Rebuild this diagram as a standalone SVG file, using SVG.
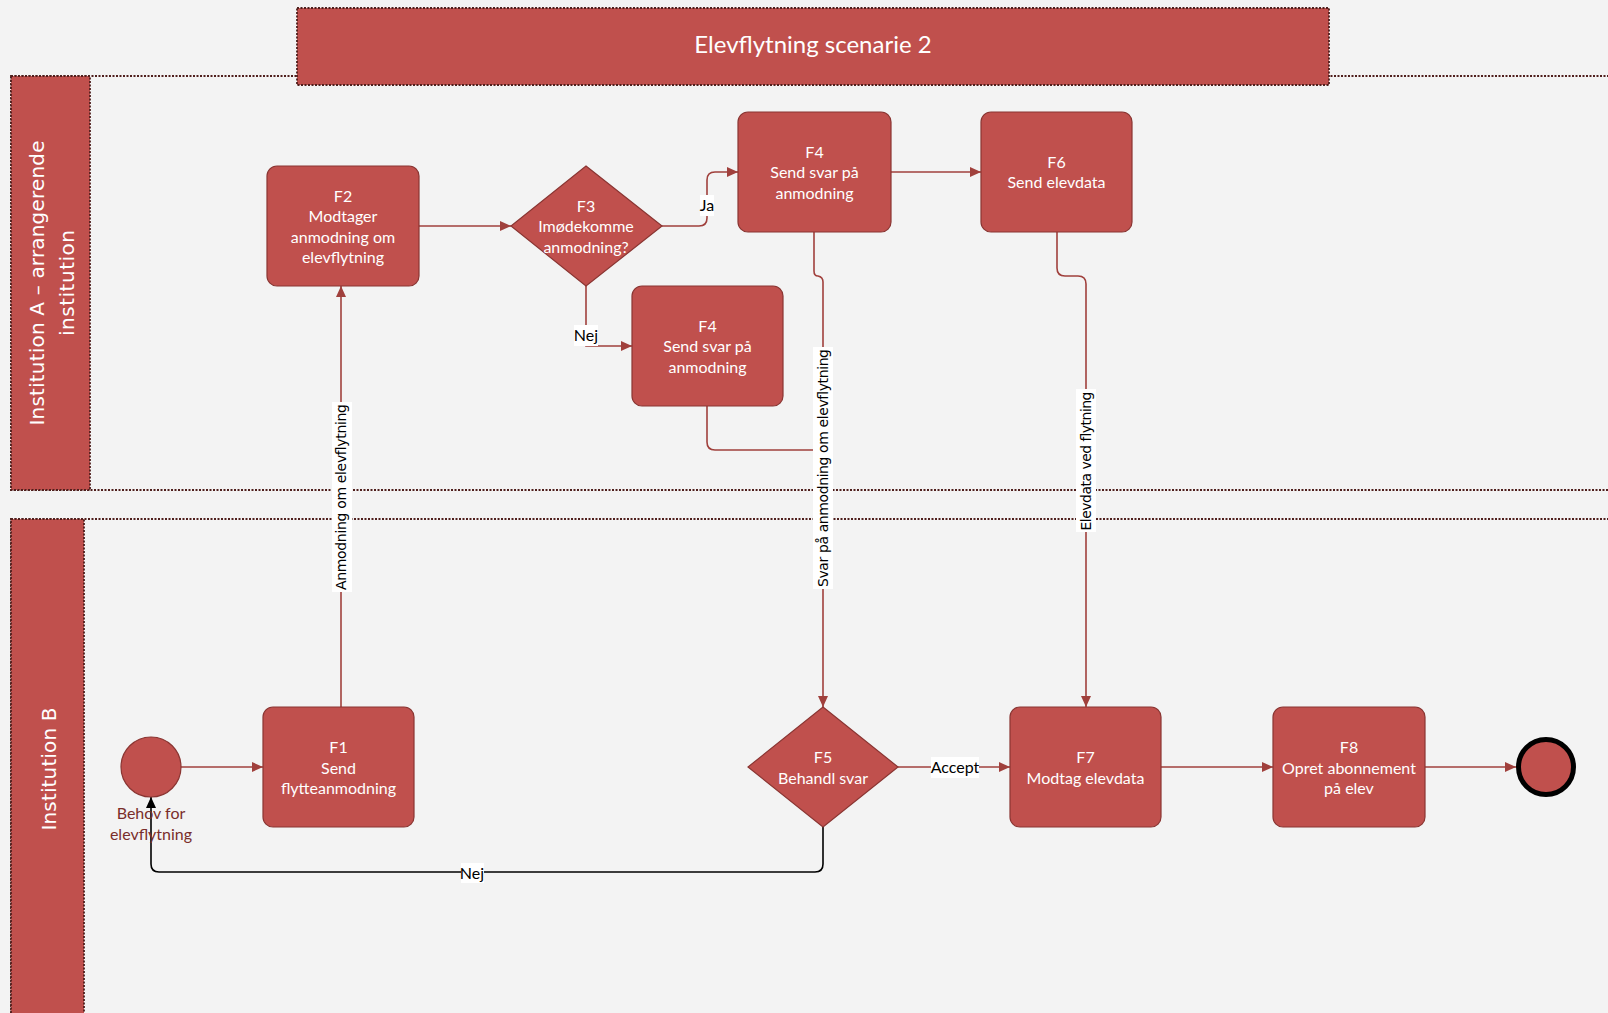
<svg xmlns="http://www.w3.org/2000/svg" width="1608" height="1013" viewBox="0 0 1608 1013">
<style>
.lane{fill:none;stroke:#4f1f1d;stroke-width:1.8;stroke-dasharray:2,1.5}
.hdr{fill:#C0504D;stroke:#4f1f1d;stroke-width:1.8;stroke-dasharray:2,1.5}
.node{fill:#C0504D;stroke:#8A3532;stroke-width:1.2}
.ntxt{font-family:Lato,"Liberation Sans",sans-serif;font-size:16px;fill:#ffffff;text-anchor:middle}
.lanetxt{font-family:"DejaVu Sans",Verdana,sans-serif;font-size:20px;fill:#ffffff;text-anchor:middle}
.con{fill:none;stroke:#A0403C;stroke-width:1.6}
.conb{fill:none;stroke:#000000;stroke-width:1.6}
.lbg{fill:#ffffff}
.ltxt{font-family:Lato,"Liberation Sans",sans-serif;font-size:16px;fill:#000000;text-anchor:middle}
.rtxt{font-family:"DejaVu Sans",Verdana,sans-serif;font-size:14px;fill:#000000;text-anchor:middle}
</style>
<defs>
<marker id="ar" markerUnits="userSpaceOnUse" markerWidth="12" markerHeight="10" refX="11" refY="5" orient="auto">
<path d="M0,0 L11,5 L0,10 z" fill="#A0403C"/>
</marker>
<marker id="ab" markerUnits="userSpaceOnUse" markerWidth="12" markerHeight="10" refX="11" refY="5" orient="auto">
<path d="M0,0 L11,5 L0,10 z" fill="#000000"/>
</marker>
</defs>
<rect x="0" y="0" width="1608" height="1013" fill="#F3F3F3"/>

<g id="lane-a">
<rect class="lane" x="11" y="76" width="1610" height="414"/>
<rect class="hdr" x="11" y="76" width="79" height="414"/>
<text class="lanetxt" transform="translate(44,283) rotate(-90)" x="0" y="0" textLength="285">Institution A – arrangerende</text>
<text class="lanetxt" transform="translate(74,283) rotate(-90)" x="0" y="0" textLength="106">institution</text>
</g>
<g id="lane-b">
<rect class="lane" x="11" y="519" width="1610" height="510"/>
<rect class="hdr" x="11" y="519" width="73" height="510"/>
<text class="lanetxt" transform="translate(56,769) rotate(-90)" x="0" y="0" textLength="123">Institution B</text>
</g>
<g id="title">
<rect class="hdr" x="297" y="8" width="1032" height="77"/>
<text x="813" y="53" font-family="Lato,'Liberation Sans',sans-serif" font-size="24" fill="#ffffff" text-anchor="middle">Elevflytning scenarie 2</text>
</g>

<g id="connectors">
<path class="con" d="M181,767 H263" marker-end="url(#ar)"/>
<path class="con" d="M341,707 V286" marker-end="url(#ar)"/>
<path class="con" d="M419,226 H511" marker-end="url(#ar)"/>
<path class="con" d="M662,226 H699 Q707,226 707,218 V180 Q707,172 715,172 H738" marker-end="url(#ar)"/>
<path class="con" d="M586,286 V346 H632" marker-end="url(#ar)"/>
<path class="con" d="M891,172 H981" marker-end="url(#ar)"/>
<path class="con" d="M707,406 V442 Q707,450 715,450 H823"/>
<path class="con" d="M814,232 V271 Q814,276 818,276 Q823,277 823,282 V707" marker-end="url(#ar)"/>
<path class="con" d="M1057,232 V268 Q1057,276 1065,276 H1078 Q1086,276 1086,284 V707" marker-end="url(#ar)"/>
<path class="con" d="M898,767 H1010" marker-end="url(#ar)"/>
<path class="con" d="M1161,767 H1273" marker-end="url(#ar)"/>
<path class="con" d="M1425,767 H1516" marker-end="url(#ar)"/>
<path class="conb" d="M823,827 V864 Q823,872 815,872 H159 Q151,872 151,864 V797" marker-end="url(#ab)"/>

<rect class="lbg" x="700" y="195" width="14" height="21"/>
<text class="ltxt" x="707" y="211">Ja</text>
<rect class="lbg" x="574" y="325" width="24" height="21"/>
<text class="ltxt" x="586" y="341">Nej</text>
<rect class="lbg" x="931" y="757" width="48" height="21"/>
<text class="ltxt" x="955" y="773">Accept</text>
<rect class="lbg" x="461" y="863" width="23" height="20"/>
<text class="ltxt" x="472" y="879">Nej</text>

<rect class="lbg" x="332" y="402" width="20" height="190"/>
<text class="rtxt" transform="translate(341,497) rotate(-90)" x="0" y="5" textLength="186">Anmodning om elevflytning</text>
<rect class="lbg" x="813" y="347" width="20" height="242"/>
<text class="rtxt" transform="translate(823,468) rotate(-90)" x="0" y="5" textLength="238">Svar på anmodning om elevflytning</text>
<rect class="lbg" x="1076" y="389" width="20" height="143"/>
<text class="rtxt" transform="translate(1086,461) rotate(-90)" x="0" y="5" textLength="139">Elevdata ved flytning</text>
</g>

<g id="start">
<circle class="node" cx="151" cy="767" r="30"/>
<text x="151" y="819" font-family="Lato,'Liberation Sans',sans-serif" font-size="16" fill="#7A2E2B" text-anchor="middle"><tspan x="151" y="819">Behov for</tspan><tspan x="151" y="840">elevflytning</tspan></text>
</g>
<g id="F1">
<rect class="node" x="263" y="707" width="151" height="120" rx="10"/>
<text class="ntxt"><tspan x="338.5" y="753">F1</tspan><tspan x="338.5" y="773.5">Send</tspan><tspan x="338.5" y="794">flytteanmodning</tspan></text>
</g>
<g id="F2">
<rect class="node" x="267" y="166" width="152" height="120" rx="10"/>
<text class="ntxt"><tspan x="343" y="201.5">F2</tspan><tspan x="343" y="222">Modtager</tspan><tspan x="343" y="242.5">anmodning om</tspan><tspan x="343" y="263">elevflytning</tspan></text>
</g>
<g id="F3">
<polygon class="node" points="586,166 662,226 586,286 511,226"/>
<text class="ntxt"><tspan x="586" y="211.5">F3</tspan><tspan x="586" y="232">Imødekomme</tspan><tspan x="586" y="252.5">anmodning?</tspan></text>
</g>
<g id="F4a">
<rect class="node" x="738" y="112" width="153" height="120" rx="10"/>
<text class="ntxt"><tspan x="814.5" y="157.5">F4</tspan><tspan x="814.5" y="178">Send svar på</tspan><tspan x="814.5" y="198.5">anmodning</tspan></text>
</g>
<g id="F4b">
<rect class="node" x="632" y="286" width="151" height="120" rx="10"/>
<text class="ntxt"><tspan x="707.5" y="331.5">F4</tspan><tspan x="707.5" y="352">Send svar på</tspan><tspan x="707.5" y="372.5">anmodning</tspan></text>
</g>
<g id="F6">
<rect class="node" x="981" y="112" width="151" height="120" rx="10"/>
<text class="ntxt"><tspan x="1056.5" y="167.5">F6</tspan><tspan x="1056.5" y="188">Send elevdata</tspan></text>
</g>
<g id="F5">
<polygon class="node" points="823,707 898,767 823,827 748,767"/>
<text class="ntxt"><tspan x="823" y="763">F5</tspan><tspan x="823" y="783.5">Behandl svar</tspan></text>
</g>
<g id="F7">
<rect class="node" x="1010" y="707" width="151" height="120" rx="10"/>
<text class="ntxt"><tspan x="1085.5" y="763">F7</tspan><tspan x="1085.5" y="783.5">Modtag elevdata</tspan></text>
</g>
<g id="F8">
<rect class="node" x="1273" y="707" width="152" height="120" rx="10"/>
<text class="ntxt"><tspan x="1349" y="753">F8</tspan><tspan x="1349" y="773.5">Opret abonnement</tspan><tspan x="1349" y="794">på elev</tspan></text>
</g>
<g id="end">
<circle cx="1546" cy="767" r="27.5" fill="#C0504D" stroke="#000000" stroke-width="5"/>
</g>
</svg>
